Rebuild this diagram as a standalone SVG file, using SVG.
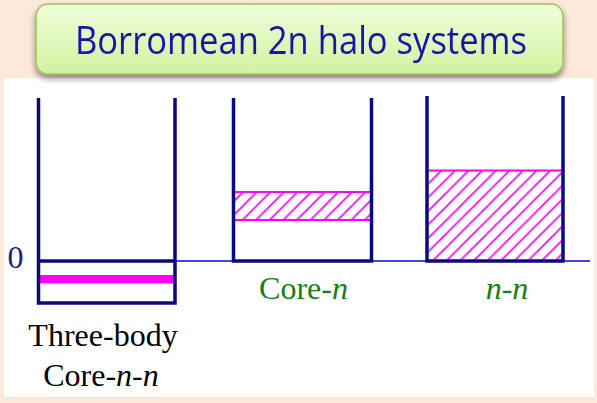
<svg xmlns="http://www.w3.org/2000/svg" width="597" height="403" viewBox="0 0 597 403">
<style>
.well{fill:none;stroke:#0a0a80;stroke-width:3.5;stroke-linejoin:miter;stroke-linecap:butt}
.band{stroke:#ff00ff;stroke-width:2}
.serif{font-family:"Liberation Serif","Times New Roman",serif;font-size:32px}
.green{fill:#128212}
</style>
<defs>
<linearGradient id="titleGrad" x1="0" y1="0" x2="0" y2="1">
<stop offset="0" stop-color="#f0ffdc"/>
<stop offset="1" stop-color="#d2f1a0"/>
</linearGradient>
<filter id="shadow" x="-10%" y="-20%" width="120%" height="160%">
<feGaussianBlur in="SourceAlpha" stdDeviation="3"/>
<feOffset dx="0" dy="4" result="b"/>
<feComponentTransfer><feFuncA type="linear" slope="0.45"/></feComponentTransfer>
<feMerge><feMergeNode/><feMergeNode in="SourceGraphic"/></feMerge>
</filter>
<pattern id="hatch" patternUnits="userSpaceOnUse" width="13.6" height="13.6">
<path d="M-3.4,3.4 L3.4,-3.4 M0,13.6 L13.6,0 M10.2,17 L17,10.2" stroke="#ff00ff" stroke-width="1.6"/>
</pattern>
</defs>
<rect x="0" y="0" width="597" height="403" fill="#fde9da"/>
<rect x="4" y="78" width="590" height="319" fill="#ffffff"/>
<g id="title" filter="url(#shadow)">
<rect x="36" y="4" width="527" height="70" rx="12" ry="12" fill="url(#titleGrad)" stroke="#9cc45a" stroke-width="1.5"/>
<text x="301" y="54" text-anchor="middle" font-family="Open Sans, Liberation Sans, sans-serif" font-size="39" fill="#1414aa" textLength="452" lengthAdjust="spacingAndGlyphs">Borromean 2n halo systems</text>
</g>
<g id="connectors">
<line x1="175" y1="261" x2="590" y2="261" stroke="#0000ff" stroke-width="1.5"/>
</g>
<g id="zero-label">
<text class="serif" x="15.5" y="268" text-anchor="middle" fill="#202080">0</text>
</g>
<g id="well-three-body">
<rect x="40" y="275" width="134" height="8.3" fill="#ff00ff"/>
<path class="well" d="M38.5,98 V303 H175 V98"/>
<line x1="38.5" y1="261" x2="175" y2="261" stroke="#0a0a80" stroke-width="3.5"/>
<text class="serif" x="103" y="346" text-anchor="middle" fill="#000">Three-body</text>
<text class="serif" x="101" y="386" text-anchor="middle" fill="#000">Core-<tspan font-style="italic">n</tspan>-<tspan font-style="italic">n</tspan></text>
</g>
<g id="well-core-n">
<rect x="235" y="192" width="135" height="28" fill="url(#hatch)"/>
<line class="band" x1="235" y1="192" x2="370" y2="192"/>
<line class="band" x1="235" y1="220" x2="370" y2="220"/>
<path class="well" d="M233.5,98 V261 H371.5 V98"/>
<text class="serif green" x="303.5" y="299" text-anchor="middle">Core-<tspan font-style="italic">n</tspan></text>
</g>
<g id="well-n-n">
<rect x="428.5" y="170.5" width="133" height="89" fill="url(#hatch)"/>
<line class="band" x1="428.5" y1="170.5" x2="561.5" y2="170.5"/>
<path class="well" d="M427,96 V261 H563 V96"/>
<text class="serif green" x="507" y="299" text-anchor="middle"><tspan font-style="italic">n</tspan>-<tspan font-style="italic">n</tspan></text>
</g>
</svg>
